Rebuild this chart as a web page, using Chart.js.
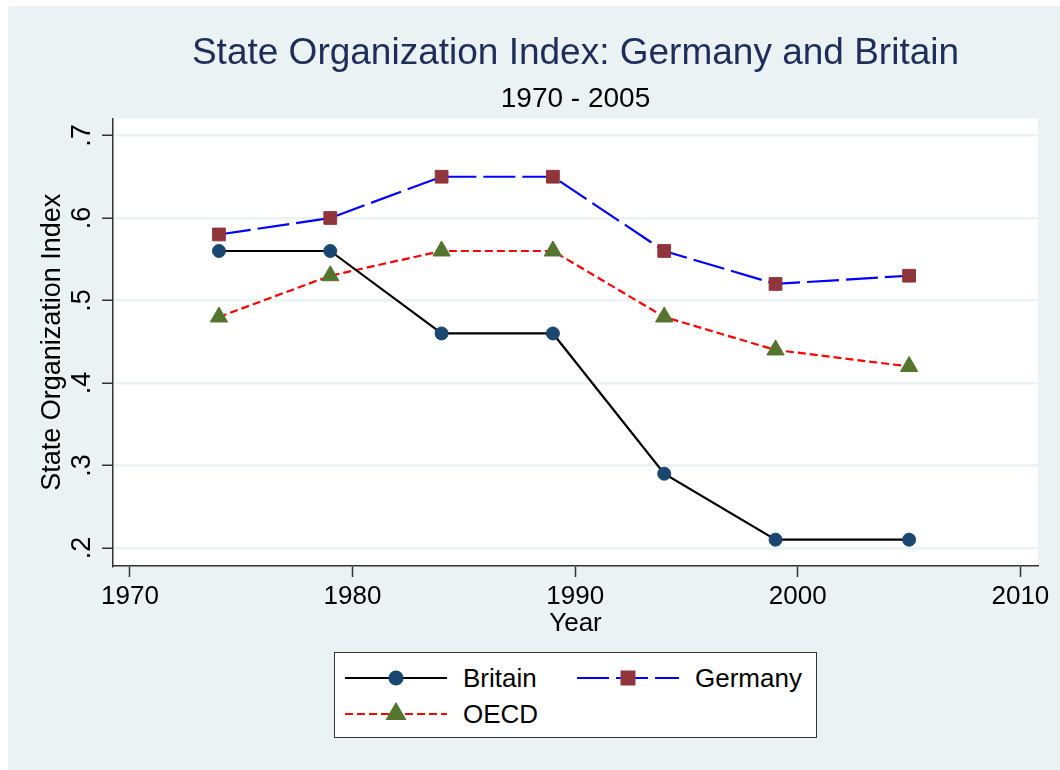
<!DOCTYPE html>
<html>
<head>
<meta charset="utf-8">
<script src="https://cdn.jsdelivr.net/npm/chart.js@4.4.1/dist/chart.umd.min.js"></script>
<style>
  body { margin: 0; background: #ffffff; font-family: 'Liberation Sans', Arial, sans-serif; }
  #frame { position: absolute; left: 8px; top: 6px; width: 1052px; height: 764px; background: #eaf2f3; }
  #chart { position: absolute; left: 0; top: 0; }
  #legend { position: absolute; left: 334px; top: 652px; width: 481px; height: 84px; background: #fff; border: 1px solid #333; }
  .item { position: absolute; height: 30px; display: flex; align-items: center; }
  .item canvas { display: block; }
  .item span { font-size: 26px; color: #000; margin-left: 16px; }
</style>
</head>
<body>
<div id="frame"></div>
<canvas id="chart" width="1060" height="770"></canvas>
<div id="legend"></div>
<script>
// Data
const years = [1974, 1979, 1984, 1989, 1994, 1999, 2005];
const britain = [0.56, 0.56, 0.46, 0.46, 0.29, 0.21, 0.21];
const germany = [0.58, 0.60, 0.65, 0.65, 0.56, 0.52, 0.53];
const oecd = [0.48, 0.53, 0.56, 0.56, 0.48, 0.44, 0.42];

const xTicks = [1970, 1980, 1990, 2000, 2010];
const yTicks = [0.2, 0.3, 0.4, 0.5, 0.6, 0.7];
const yTickLabels = ['.2', '.3', '.4', '.5', '.6', '.7'];

const FONT = "'Liberation Sans', Arial, sans-serif";
const toPoints = vals => years.map((yr, i) => ({ x: yr, y: vals[i] }));

// white plot region like Stata's plotregion
const plotBg = {
    id: 'plotBg',
    beforeDraw(chart) {
        const a = chart.chartArea;
        chart.ctx.save();
        chart.ctx.fillStyle = '#ffffff';
        chart.ctx.fillRect(a.left, a.top, a.right - a.left, a.bottom - a.top);
        chart.ctx.restore();
    }
};

const chart = new Chart(document.getElementById('chart'), {
    type: 'line',
    data: {
        datasets: [
            {
                label: 'Britain', data: toPoints(britain),
                borderColor: '#000000', borderWidth: 2.2,
                pointStyle: 'circle', pointRadius: 6.5, pointBorderWidth: 1,
                pointBackgroundColor: '#1a476f', pointBorderColor: '#1a476f'
            },
            {
                label: 'Germany', data: toPoints(germany),
                borderColor: '#0000ff', borderWidth: 2.2, borderDash: [32, 7],
                pointStyle: 'rect', pointRadius: 9, pointBorderWidth: 1,
                pointBackgroundColor: '#90353b', pointBorderColor: '#90353b'
            },
            {
                label: 'OECD', data: toPoints(oecd),
                borderColor: '#ff0000', borderWidth: 2.2, borderDash: [8, 4],
                pointStyle: 'triangle', pointRadius: 10, pointBorderWidth: 1,
                pointBackgroundColor: '#55752f', pointBorderColor: '#55752f'
            }
        ]
    },
    options: {
        responsive: false,
        animation: false,
        layout: { padding: { left: 8, right: 22, top: 6, bottom: 130 } },
        elements: { line: { tension: 0 } },
        plugins: {
            legend: { display: false },
            tooltip: { enabled: false },
            title: {
                display: true, fullSize: false,
                text: 'State Organization Index: Germany and Britain',
                color: '#1e2d5a', font: { family: FONT, size: 37, weight: 'normal' },
                padding: { top: 26, bottom: 3 }
            },
            subtitle: {
                display: true, fullSize: false,
                text: '1970 - 2005',
                color: '#000000', font: { family: FONT, size: 28, weight: 'normal' },
                padding: { top: 3.5, bottom: 2 }
            }
        },
        scales: {
            x: {
                type: 'linear', min: 1969.24, max: 2010.79,
                afterBuildTicks: s => { s.ticks = xTicks.map(v => ({ value: v })); },
                afterFit: s => { s.height = 74; s.paddingLeft = 0; s.paddingRight = 0; },
                ticks: {
                    color: '#000', font: { family: FONT, size: 26 }, padding: 4, maxRotation: 0, autoSkip: false,
                    callback: v => String(v)
                },
                grid: { drawOnChartArea: false, tickLength: 11, tickColor: '#333', tickWidth: 1.5 },
                border: { color: '#333', width: 1.5 },
                title: { display: true, text: 'Year', color: '#000', font: { family: FONT, size: 26 }, padding: { top: 0, bottom: 1 } }
            },
            y: {
                min: 0.1781, max: 0.7206,
                afterBuildTicks: s => { s.ticks = yTicks.map(v => ({ value: v })); },
                afterFit: s => { s.width = 105; s.paddingTop = 0; s.paddingBottom = 0; },
                ticks: {
                    color: '#000', font: { family: FONT, size: 27 }, padding: 8,
                    minRotation: 90, maxRotation: 90, crossAlign: 'center',
                    callback: (v, i) => yTickLabels[i]
                },
                grid: { color: '#eaf2f3', lineWidth: 2.5, tickLength: 11, tickColor: '#333', tickWidth: 1.5 },
                border: { color: '#333', width: 1.5 },
                title: { display: true, text: 'State Organization Index', color: '#000', font: { family: FONT, size: 27 }, padding: { top: 28 } }
            }
        }
    },
    plugins: [plotBg]
});

// Stata-style legend: line sample with marker, then the label
const legendBox = document.getElementById('legend');
const slots = [{ left: 10, top: 10 }, { left: 242, top: 10 }, { left: 10, top: 46 }];
chart.data.datasets.forEach((ds, i) => {
    const item = document.createElement('div');
    item.className = 'item';
    item.style.left = slots[i].left + 'px';
    item.style.top = slots[i].top + 'px';

    const c = document.createElement('canvas');
    c.width = 102; c.height = 24;
    const g = c.getContext('2d');
    g.strokeStyle = ds.borderColor;
    g.lineWidth = ds.borderWidth;
    g.setLineDash(ds.borderDash || []);
    g.beginPath(); g.moveTo(0, 12); g.lineTo(102, 12); g.stroke();
    g.setLineDash([]);
    g.fillStyle = ds.pointBackgroundColor;
    g.strokeStyle = ds.pointBorderColor;
    Chart.helpers.drawPoint(g, { pointStyle: ds.pointStyle, radius: ds.pointRadius, borderWidth: ds.pointBorderWidth, rotation: 0 }, 51, 12);

    const t = document.createElement('span');
    t.textContent = ds.label;
    item.appendChild(c);
    item.appendChild(t);
    legendBox.appendChild(item);
});
</script>
</body>
</html>
